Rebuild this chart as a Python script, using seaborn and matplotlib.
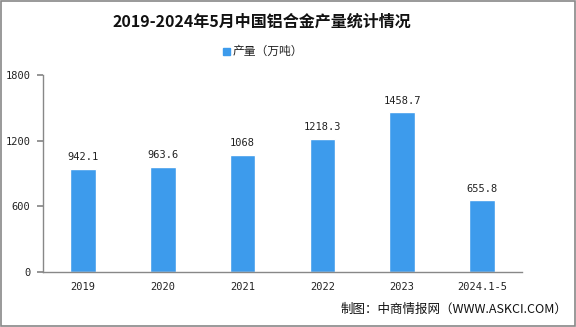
import matplotlib
matplotlib.use("Agg")
import matplotlib.pyplot as plt
import seaborn as sns
import pandas as pd
from matplotlib.patches import Rectangle

categories = ["2019", "2020", "2021", "2022", "2023", "2024.1-5"]
values = [942.1, 963.6, 1068, 1218.3, 1458.7, 655.8]
labels = ["942.1", "963.6", "1068", "1218.3", "1458.7", "655.8"]
yticks = [0, 600, 1200, 1800]

sns.set_theme(style="white")
plt.rcParams['font.family'] = ['Noto Sans CJK SC', 'DejaVu Sans']

fig = plt.figure(figsize=(5.76, 3.27), dpi=100)
ax = fig.add_axes([0.0747, 0.168, 0.8313, 0.603])
df = pd.DataFrame({"cat": categories, "val": values})
color = "#3d9bec"
sns.barplot(data=df, x="cat", y="val", color=color, width=0.32, saturation=1, ax=ax)

mono = ['DejaVu Sans Mono', 'DejaVu Sans']
for i, (v, t) in enumerate(zip(values, labels)):
    ax.text(i, v + 60, t, ha="center", va="bottom", fontsize=7.5, color="#222222",
            family=mono)

ax.set_ylim(0, 1800)
ax.set_xlim(-0.5, 5.5)
ax.set_yticks(yticks)
ax.set_yticklabels([str(y) for y in yticks], fontsize=7.5, color="#222222", family=mono)
ax.set_xticks(range(len(categories)))
ax.set_xticklabels(categories, fontsize=7.5, color="#222222", family=mono)
ax.set_xlabel("")
ax.set_ylabel("")
for s in ["top", "right"]:
    ax.spines[s].set_visible(False)
for s in ["left", "bottom"]:
    ax.spines[s].set_color("#888888")
    ax.spines[s].set_linewidth(1)
ax.tick_params(axis="y", length=4, color="#888888", left=True, pad=5)
ax.tick_params(axis="x", length=0, pad=7)

fig.text(0.455, 0.933, "2019-2024年5月中国铝合金产量统计情况", ha="center", va="center",
         fontsize=11.5, fontweight="bold", color="#111111")
# legend
fig.patches.append(Rectangle((0.3875, 0.832), 0.0125, 0.022, transform=fig.transFigure,
                             color=color, figure=fig))
fig.text(0.404, 0.843, "产量（万吨）", ha="left", va="center", fontsize=8.5, color="#222222")

fig.text(0.985, 0.055, "制图：中商情报网（WWW.ASKCI.COM）", ha="right", va="center",
         fontsize=9, color="#111111")

fig.patches.append(Rectangle((0.001, 0.002), 0.997, 0.995, transform=fig.transFigure,
                             fill=False, edgecolor="#888888", linewidth=1.2, figure=fig))

fig.savefig("out.png", dpi=100)
